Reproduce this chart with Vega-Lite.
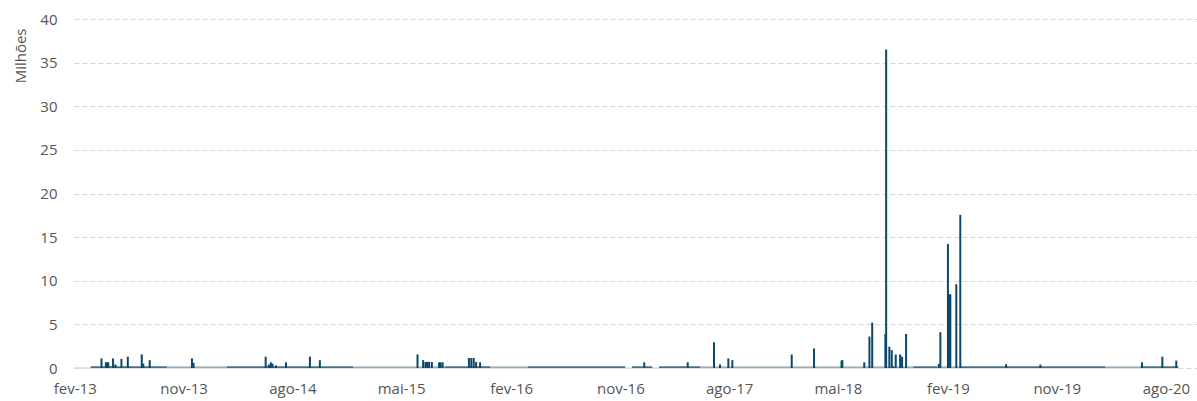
{
  "$schema": "https://vega.github.io/schema/vega-lite/v6.json",
  "width": 1123,
  "height": 349,
  "autosize": {"type": "none"},
  "padding": {"left": 74, "top": 19, "right": 0, "bottom": 33},
  "config": {
    "view": {"stroke": null},
    "font": "Open Sans",
    "axis": {"labelFont": "Open Sans", "titleFont": "Open Sans", "labelColor": "#555555", "titleColor": "#555555", "labelFontSize": 15, "titleFontSize": 15, "titleFontWeight": "normal"}
  },
  "datasets": {
    "zero": [{"ini": "2013-01-30", "fim": "2020-09-01", "valor": 0}],
    "base": [
      {"ini": "2013-03-13", "fim": "2013-09-20", "valor": 0.2, "tipo": "denso"},
      {"ini": "2013-09-20", "fim": "2014-02-18", "valor": 0.2, "tipo": "esparso"},
      {"ini": "2014-02-18", "fim": "2014-12-31", "valor": 0.2, "tipo": "denso"},
      {"ini": "2014-12-31", "fim": "2015-08-18", "valor": 0.2, "tipo": "esparso"},
      {"ini": "2015-08-18", "fim": "2015-12-10", "valor": 0.2, "tipo": "denso"},
      {"ini": "2015-12-10", "fim": "2016-03-14", "valor": 0.2, "tipo": "esparso"},
      {"ini": "2016-03-14", "fim": "2016-11-13", "valor": 0.2, "tipo": "denso"},
      {"ini": "2016-11-30", "fim": "2017-01-20", "valor": 0.2, "tipo": "denso"},
      {"ini": "2017-02-06", "fim": "2017-05-20", "valor": 0.2, "tipo": "denso"},
      {"ini": "2017-05-20", "fim": "2018-11-06", "valor": 0.2, "tipo": "esparso"},
      {"ini": "2018-11-06", "fim": "2019-01-05", "valor": 0.2, "tipo": "denso"},
      {"ini": "2019-01-05", "fim": "2019-03-04", "valor": 0.2, "tipo": "esparso"},
      {"ini": "2019-03-04", "fim": "2020-03-02", "valor": 0.2, "tipo": "denso"},
      {"ini": "2020-03-02", "fim": "2020-05-29", "valor": 0.2, "tipo": "esparso"},
      {"ini": "2020-05-29", "fim": "2020-09-01", "valor": 0.2, "tipo": "denso"}
    ],
    "picos": [
      {"ini": "2013-04-09", "valor": 1.1},
      {"ini": "2013-04-20", "valor": 0.65},
      {"ini": "2013-04-23", "valor": 0.65},
      {"ini": "2013-04-26", "valor": 0.65},
      {"ini": "2013-05-08", "valor": 1.1},
      {"ini": "2013-05-14", "valor": 0.4},
      {"ini": "2013-05-29", "valor": 1.05},
      {"ini": "2013-06-14", "valor": 1.3},
      {"ini": "2013-07-19", "valor": 1.55},
      {"ini": "2013-07-23", "valor": 0.5},
      {"ini": "2013-08-08", "valor": 0.9},
      {"ini": "2013-11-22", "valor": 1.1},
      {"ini": "2013-11-26", "valor": 0.6},
      {"ini": "2014-05-26", "valor": 1.3},
      {"ini": "2014-06-03", "valor": 0.4},
      {"ini": "2014-06-08", "valor": 0.65},
      {"ini": "2014-06-12", "valor": 0.5},
      {"ini": "2014-06-21", "valor": 0.3},
      {"ini": "2014-07-16", "valor": 0.65},
      {"ini": "2014-09-14", "valor": 1.3},
      {"ini": "2014-10-09", "valor": 0.9},
      {"ini": "2015-06-11", "valor": 1.55},
      {"ini": "2015-06-25", "valor": 0.9},
      {"ini": "2015-07-01", "valor": 0.7},
      {"ini": "2015-07-05", "valor": 0.7},
      {"ini": "2015-07-10", "valor": 0.7},
      {"ini": "2015-07-17", "valor": 0.7},
      {"ini": "2015-08-04", "valor": 0.65},
      {"ini": "2015-08-08", "valor": 0.65},
      {"ini": "2015-08-13", "valor": 0.65},
      {"ini": "2015-10-18", "valor": 1.15},
      {"ini": "2015-10-24", "valor": 1.15},
      {"ini": "2015-10-30", "valor": 1.15},
      {"ini": "2015-11-05", "valor": 0.7},
      {"ini": "2015-11-15", "valor": 0.65},
      {"ini": "2016-12-31", "valor": 0.65},
      {"ini": "2017-04-19", "valor": 0.65},
      {"ini": "2017-06-24", "valor": 2.95},
      {"ini": "2017-07-09", "valor": 0.42},
      {"ini": "2017-07-30", "valor": 1.1},
      {"ini": "2017-08-09", "valor": 0.9},
      {"ini": "2018-01-05", "valor": 1.55},
      {"ini": "2018-03-02", "valor": 2.25},
      {"ini": "2018-05-10", "valor": 0.85},
      {"ini": "2018-05-12", "valor": 0.9},
      {"ini": "2018-07-06", "valor": 0.65},
      {"ini": "2018-07-19", "valor": 3.6},
      {"ini": "2018-07-26", "valor": 5.2},
      {"ini": "2018-08-28", "valor": 3.9},
      {"ini": "2018-08-30", "valor": 36.5},
      {"ini": "2018-09-07", "valor": 2.45},
      {"ini": "2018-09-13", "valor": 2.05},
      {"ini": "2018-09-17", "valor": 0.2},
      {"ini": "2018-09-23", "valor": 1.55},
      {"ini": "2018-10-04", "valor": 1.55},
      {"ini": "2018-10-09", "valor": 1.3},
      {"ini": "2018-10-19", "valor": 3.9},
      {"ini": "2019-01-09", "valor": 0.45},
      {"ini": "2019-01-13", "valor": 4.1},
      {"ini": "2019-02-01", "valor": 14.2},
      {"ini": "2019-02-04", "valor": 8.45},
      {"ini": "2019-02-07", "valor": 8.45},
      {"ini": "2019-02-22", "valor": 9.6},
      {"ini": "2019-03-04", "valor": 17.55},
      {"ini": "2019-06-27", "valor": 0.45},
      {"ini": "2019-09-21", "valor": 0.4},
      {"ini": "2020-06-02", "valor": 0.65},
      {"ini": "2020-07-23", "valor": 1.3},
      {"ini": "2020-08-27", "valor": 0.85}
    ]
  },
  "encoding": {
    "x": {
      "field": "ini",
      "type": "temporal",
      "title": null,
      "scale": {"type": "utc", "padding": 0, "domain": [{"year": 2013, "month": 1, "date": 30, "utc": true}, {"year": 2020, "month": 10, "date": 18, "utc": true}]},
      "axis": {
        "values": [
          {"year": 2013, "month": 2, "date": 1, "utc": true},
          {"year": 2013, "month": 11, "date": 1, "utc": true},
          {"year": 2014, "month": 8, "date": 1, "utc": true},
          {"year": 2015, "month": 5, "date": 1, "utc": true},
          {"year": 2016, "month": 2, "date": 1, "utc": true},
          {"year": 2016, "month": 11, "date": 1, "utc": true},
          {"year": 2017, "month": 8, "date": 1, "utc": true},
          {"year": 2018, "month": 5, "date": 1, "utc": true},
          {"year": 2019, "month": 2, "date": 1, "utc": true},
          {"year": 2019, "month": 11, "date": 1, "utc": true},
          {"year": 2020, "month": 8, "date": 1, "utc": true}
        ],
        "labelExpr": "['jan','fev','mar','abr','mai','jun','jul','ago','set','out','nov','dez'][utcmonth(datum.value)] + '-' + utcFormat(datum.value, '%y')",
        "domain": false,
        "ticks": false,
        "grid": false,
        "labelPadding": 13,
        "labelFlush": false,
        "labelOverlap": false
      }
    },
    "y": {
      "field": "valor",
      "type": "quantitative",
      "title": "Milhões",
      "scale": {"domain": [0, 40], "nice": false, "padding": 0},
      "axis": {
        "values": [0, 5, 10, 15, 20, 25, 30, 35, 40],
        "domain": false,
        "ticks": false,
        "grid": true,
        "gridDash": [5, 3],
        "gridColor": "#d4d4d4",
        "gridWidth": 1,
        "labelPadding": 17,
        "titleAnchor": "end",
        "titlePadding": 11,
        "titleY": 9
      }
    }
  },
  "layer": [
    {
      "data": {"name": "zero"},
      "mark": {"type": "rule", "color": "#dddddd", "strokeWidth": 1.5},
      "encoding": {"x2": {"field": "fim"}}
    },
    {
      "data": {"name": "base"},
      "mark": {"type": "rect", "color": "#0b4768"},
      "encoding": {
        "x2": {"field": "fim"},
        "y2": {"datum": 0},
        "opacity": {"field": "tipo", "type": "nominal", "scale": {"domain": ["denso", "esparso"], "range": [0.75, 0.35]}, "legend": null}
      }
    },
    {
      "data": {"name": "picos"},
      "mark": {"type": "bar", "color": "#0b4768", "width": 2}
    }
  ]
}
